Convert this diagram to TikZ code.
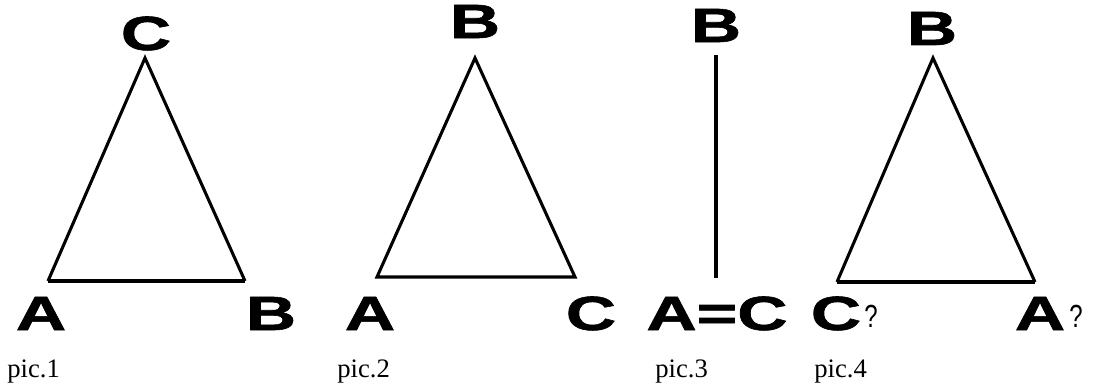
\documentclass[tikz,border=0pt]{standalone}
\usepackage{fontspec}
\usepackage{graphicx}
\setmainfont{Liberation Serif}
\newfontfamily\bigsans{Liberation Sans}[BoldFeatures={FakeBold=1.2}]
\newcommand{\bigletter}[1]{\scalebox{1.45}[1]{\bigsans\bfseries\fontsize{36}{40}\selectfont #1}}
\newcommand{\qmark}{\scalebox{0.75}[1]{\bigsans\fontsize{24}{28}\selectfont ?}}
\tikzset{
  lbl/.style={anchor=base, inner sep=0pt},
  piccap/.style={anchor=base west, inner sep=0pt, font=\fontsize{20}{24}\selectfont},
  side/.style={line width=2.3pt, line join=miter},
  basel/.style={line width=3.3pt},
}
\begin{document}
\begin{tikzpicture}[x=0.75pt,y=-0.75pt]
\useasboundingbox (0,0) rectangle (1093,389);
% pic 1
\coordinate (p1C) at (145,58);
\coordinate (p1A) at (48,281);
\coordinate (p1B) at (245,281);
\draw[side] (p1A) -- (p1C) -- (p1B);
\draw[basel] (p1A) -- (p1B);
\node[lbl] (l1C) at (146,50) {\bigletter{C}};
\node[lbl] (l1A) at (41,330) {\bigletter{A}};
\node[lbl] (l1B) at (271,330) {\bigletter{B}};
\node[piccap] (c1) at (7,377) {pic.1};
% pic 2
\coordinate (p2B) at (475,58);
\coordinate (p2A) at (377,277);
\coordinate (p2C) at (575,277);
\draw[side] (p2A) -- (p2B) -- (p2C) -- cycle;
\node[lbl] (l2B) at (475,38) {\bigletter{B}};
\node[lbl] (l2A) at (370,330) {\bigletter{A}};
\node[lbl] (l2C) at (591,330) {\bigletter{C}};
\node[piccap] (c2) at (337,377) {pic.2};
% pic 3
\coordinate (p3B) at (716,55);
\coordinate (p3AC) at (716,278);
\draw[line width=3pt] (p3B) -- (p3AC);
\node[lbl] (l3B) at (716,42) {\bigletter{B}};
\node[lbl] (l3AC) at (717,330) {\bigletter{A=C}};
\node[piccap] (c3) at (655,377) {pic.3};
% pic 4
\coordinate (p4B) at (933,58);
\coordinate (p4C) at (837,282);
\coordinate (p4A) at (1035,282);
\draw[side] (p4C) -- (p4B) -- (p4A);
\draw[basel] (p4C) -- (p4A);
\node[lbl] (l4B) at (932,45) {\bigletter{B}};
\node[lbl] (l4C) at (836,330) {\bigletter{C}};
\node[anchor=base west, inner sep=0pt] (q4C) at (864,327) {\qmark};
\node[lbl] (l4A) at (1040,330) {\bigletter{A}};
\node[anchor=base west, inner sep=0pt] (q4A) at (1069,327) {\qmark};
\node[piccap] (c4) at (814,377) {pic.4};
\end{tikzpicture}
\end{document}
